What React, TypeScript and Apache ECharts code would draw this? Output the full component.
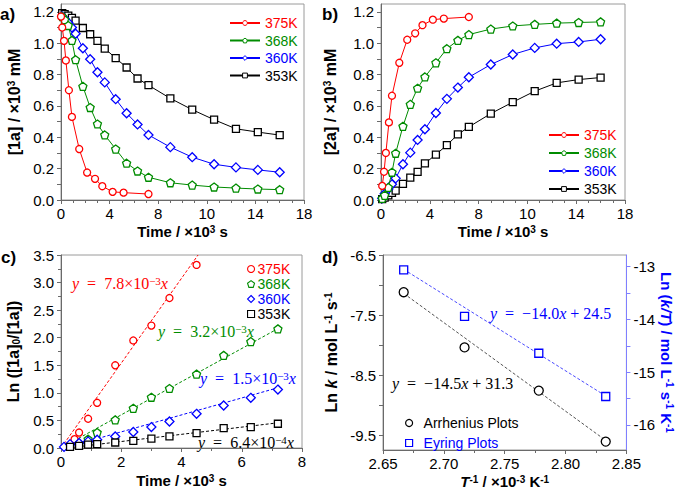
import React, { useEffect, useRef } from 'react';
import * as echarts from 'echarts';

const FONT = '"Liberation Sans", Arial, Helvetica, sans-serif';
const SERIF = '"Liberation Serif", "DejaVu Serif", serif';
const RED = '#ff0000';
const GREEN = '#008c00';
const BLUE = '#0000ff';
const BLACK = '#000000';
const AXIS = '#6a6a6a';
const BORDER = '#9a9a9a';

const tempNames = ['375K', '368K', '360K', '353K'];
const tempColors = [RED, GREEN, BLUE, BLACK];

// shared time axis labels as printed in panels a) and b)
const timeTickLabels = ['0', '4', '8', '10', '14', '18'];

// ---------- panel a : [1a] ----------
const aTime375 = [0, 0.1, 0.25, 0.4, 0.65, 0.9, 1.5, 2.15, 2.8, 3.4, 4.25, 5.15, 7.2];
const a375 = [1.17, 1.1, 1.015, 0.89, 0.7, 0.53, 0.325, 0.175, 0.135, 0.088, 0.052, 0.047, 0.038];
const sampleTime = [0.1, 0.3, 0.6, 0.9, 1.2, 1.8, 2.4, 3.0, 3.6, 4.5, 5.4, 6.3, 7.2, 9.0, 10.8, 12.6, 14.4, 16.2, 18.0];
const a368 = [1.17, 1.15, 1.113, 1.018, 0.895, 0.725, 0.59, 0.485, 0.415, 0.325, 0.235, 0.185, 0.145, 0.11, 0.095, 0.083, 0.076, 0.07, 0.066];
const a360 = [1.17, 1.155, 1.13, 1.1, 1.06, 0.968, 0.898, 0.815, 0.75, 0.643, 0.553, 0.482, 0.415, 0.337, 0.273, 0.228, 0.208, 0.192, 0.177];
const a353 = [1.192, 1.186, 1.176, 1.161, 1.144, 1.097, 1.057, 1.015, 0.966, 0.905, 0.845, 0.775, 0.732, 0.648, 0.576, 0.512, 0.454, 0.433, 0.414];

// ---------- panel b : [2a] ----------
const bTime375 = [0.1, 0.25, 0.4, 0.65, 0.9, 1.5, 2.15, 2.8, 3.4, 4.25, 5.15, 7.2];
const b375 = [0.09, 0.18, 0.3, 0.495, 0.665, 0.875, 1.022, 1.063, 1.115, 1.15, 1.157, 1.167];
const b368 = [0.01, 0.03, 0.08, 0.177, 0.298, 0.47, 0.61, 0.713, 0.785, 0.875, 0.965, 1.018, 1.055, 1.09, 1.11, 1.12, 1.128, 1.132, 1.136];
const b360 = [0.01, 0.04, 0.07, 0.1, 0.138, 0.228, 0.302, 0.383, 0.451, 0.555, 0.645, 0.717, 0.783, 0.864, 0.928, 0.97, 0.997, 1.008, 1.025];
const b353 = [0.005, 0.015, 0.03, 0.045, 0.06, 0.103, 0.143, 0.18, 0.233, 0.29, 0.35, 0.418, 0.466, 0.551, 0.624, 0.694, 0.747, 0.768, 0.781];

// ---------- panel c : Ln([1a]0/[1a]) ----------
const cTime375 = [0.45, 0.6, 0.9, 1.2, 1.8, 2.4, 3.0, 3.6, 4.5];
const c375 = [0.16, 0.28, 0.53, 0.82, 1.5, 1.95, 2.22, 2.72, 3.32];
const cTime368 = [0.6, 0.9, 1.2, 1.8, 2.4, 3.0, 3.6, 4.5, 5.4, 6.3, 7.2];
const c368 = [0.08, 0.16, 0.28, 0.51, 0.72, 0.92, 1.08, 1.34, 1.68, 1.93, 2.16];
const cTime360 = [0.1, 0.3, 0.6, 0.9, 1.2, 1.8, 2.4, 3.0, 3.6, 4.5, 5.4, 6.3, 7.2];
const c360 = [0.02, 0.07, 0.09, 0.12, 0.15, 0.21, 0.29, 0.38, 0.48, 0.62, 0.77, 0.91, 1.06];
const cTime353 = [0.3, 0.6, 0.9, 1.2, 1.8, 2.4, 3.0, 3.6, 4.5, 5.4, 6.3, 7.2];
const c353 = [0.02, 0.04, 0.06, 0.07, 0.1, 0.13, 0.17, 0.21, 0.27, 0.36, 0.38, 0.44];
// dashed fit lines (end points)
const cFitX = [[0, 4.55], [0, 7.25], [0.1, 7.25], [0.2, 7.25]];
const cFitY = [[0, 3.5], [0, 2.18], [0, 1.1], [0, 0.46]];
const cEquations = ['7.8×10{s|−3}', '3.2×10{s|−3}', '1.5×10{s|−3}', '6.4×10{s|−4}'];

// ---------- panel d : Arrhenius / Eyring ----------
const invT = [2.667, 2.717, 2.778, 2.833];
const lnK = [-7.12, -8.04, -8.76, -9.61];
const lnKT = [-13.06, -13.94, -14.64, -15.46];
const arrFitX = [2.667, 2.833];
const arrFitY = [-7.14, -9.59];
const eyrFitX = [2.667, 2.833];
const eyrFitY = [-13.05, -15.45];

const pairs = (xs: number[], ys: number[]) => xs.map((x, i) => [x, ys[i]]);
const steps = (a: number, b: number, s: number) => {
  const out: number[] = [];
  for (let v = a; v <= b + 1e-9; v += s) out.push(Math.round(v * 1000) / 1000);
  return out;
};

const PENTAGON = 'path://M0,-10L9.51,-3.09L5.88,8.09L-5.88,8.09L-9.51,-3.09Z';
const symbols = ['circle', PENTAGON, 'diamond', 'rect'];
const symbolSizes = [7, 8, 9, 7];

const nameRich = (size: number, color: string) => ({
  b: { fontFamily: FONT, fontSize: size, fontWeight: 'bold', color },
  bi: { fontFamily: FONT, fontSize: size, fontWeight: 'bold', fontStyle: 'italic', color },
  sup: { fontFamily: FONT, fontSize: 10, fontWeight: 'bold', color, verticalAlign: 'top', lineHeight: 7 },
  sub: { fontFamily: FONT, fontSize: 10, fontWeight: 'bold', color, verticalAlign: 'bottom', lineHeight: 7 },
});
const nameStyle = (size: number, color = '#000') => ({
  fontFamily: FONT,
  fontSize: size,
  fontWeight: 'bold',
  color,
  rich: nameRich(size, color),
});

const labelStyle = { color: '#000', fontSize: 15, fontFamily: FONT };
const lineAx = (color = AXIS) => ({ show: true, onZero: false, lineStyle: { color, width: 1 } });
const tickAx = (color = AXIS, extra: any = {}) => ({ show: true, length: 4, lineStyle: { color }, ...extra });
const minorAx = (n: number, color = AXIS) => ({ show: true, splitNumber: n, length: 3, lineStyle: { color } });

function timeXAxis(gridIndex: number) {
  return {
    type: 'value', gridIndex, min: 0, max: 20, interval: 4,
    axisLine: lineAx(), axisTick: tickAx(), minorTick: minorAx(4),
    splitLine: { show: false }, minorSplitLine: { show: false },
    axisLabel: { ...labelStyle, margin: 6, formatter: (v: number) => timeTickLabels[Math.round(v / 4)] ?? '' },
    name: 'Time / ×10{sup|3} s', nameLocation: 'middle', nameGap: 24, nameTextStyle: nameStyle(15),
  };
}

function concYAxis(gridIndex: number, name: string, gap: number) {
  return {
    type: 'value', gridIndex, min: 0, max: 1.25,
    axisLine: lineAx(), axisTick: tickAx(AXIS, { customValues: steps(0, 1.2, 0.1) }),
    splitLine: { show: false },
    axisLabel: { ...labelStyle, margin: 7, customValues: steps(0, 1.2, 0.2), formatter: (v: number) => v.toFixed(1) },
    name, nameLocation: 'middle', nameGap: gap, nameTextStyle: nameStyle(16),
  };
}

function lineSeries(name: string, gi: number, xs: number[], ys: number[], k: number) {
  return {
    type: 'line', name, xAxisIndex: gi, yAxisIndex: gi, data: pairs(xs, ys),
    symbol: symbols[k], symbolSize: symbolSizes[k], showAllSymbol: true, clip: false,
    lineStyle: { color: tempColors[k], width: 1 },
    itemStyle: { color: '#fff', borderColor: tempColors[k], borderWidth: 1.3 },
    emphasis: { disabled: true }, z: 3 + (3 - k),
  };
}

function scatterSeries(name: string, xi: number, yi: number, xs: number[], ys: number[], symbol: string, size: number, color: string) {
  return {
    type: 'scatter', name, xAxisIndex: xi, yAxisIndex: yi, data: pairs(xs, ys),
    symbol, symbolSize: size, clip: false,
    itemStyle: { color: '#fff', borderColor: color, borderWidth: 1.3, opacity: 1 },
    emphasis: { disabled: true }, z: 4,
  };
}

function fitSeries(name: string, xi: number, yi: number, xs: number[], ys: number[], color: string) {
  return {
    type: 'line', name, xAxisIndex: xi, yAxisIndex: yi, data: pairs(xs, ys),
    symbol: 'none', clip: false, silent: true,
    lineStyle: { color, width: 1, type: [3, 2] }, z: 2,
  };
}

const eqRich = (color: string, size: number) => ({
  i: { fontFamily: SERIF, fontSize: size, fontStyle: 'italic', fill: color },
  n: { fontFamily: SERIF, fontSize: size, fill: color },
  s: { fontFamily: SERIF, fontSize: Math.round(size * 0.68), fill: color, verticalAlign: 'top', lineHeight: 7 },
});
const eqText = (x: number, y: number, body: string, color: string) => ({
  type: 'text', x, y, silent: true,
  style: {
    text: '{i|y}{n|\u2002=\u2002}' + body.replace(/^([^{]*)/, '{n|$1}') + '{i|x}',
    rich: eqRich(color, 16), fill: color, fontFamily: SERIF, fontSize: 16,
    verticalAlign: 'middle', align: 'left',
  },
});
const eqTextD = (x: number, y: number, text: string, color: string) => ({
  type: 'text', x, y, silent: true,
  style: { text, rich: eqRich(color, 16), fill: color, fontFamily: SERIF, fontSize: 16, verticalAlign: 'middle', align: 'left' },
});
const panelLabel = (text: string, x: number, y: number) => ({
  type: 'text', x, y, silent: true,
  style: { text, fill: '#000', fontFamily: FONT, fontSize: 17, fontWeight: 'bold', verticalAlign: 'middle', align: 'left' },
});

export default function App() {
  const ref = useRef<HTMLDivElement>(null);
  useEffect(() => {
    if (!ref.current) return;
    const chart = echarts.init(ref.current, null, { renderer: 'svg' });
    const gridBase = { show: true, borderColor: BORDER, borderWidth: 1, backgroundColor: 'transparent', containLabel: false };

    const series: any[] = [];
    // panel a
    series.push(lineSeries(tempNames[0], 0, aTime375, a375, 0));
    series.push(lineSeries(tempNames[1], 0, sampleTime, a368, 1));
    series.push(lineSeries(tempNames[2], 0, sampleTime, a360, 2));
    series.push(lineSeries(tempNames[3], 0, sampleTime, a353, 3));
    // panel b
    series.push(lineSeries(tempNames[0], 1, bTime375, b375, 0));
    series.push(lineSeries(tempNames[1], 1, sampleTime, b368, 1));
    series.push(lineSeries(tempNames[2], 1, sampleTime, b360, 2));
    series.push(lineSeries(tempNames[3], 1, sampleTime, b353, 3));
    // panel c
    const cTimes = [cTime375, cTime368, cTime360, cTime353];
    const cVals = [c375, c368, c360, c353];
    for (let k = 0; k < 4; k++) {
      series.push(fitSeries('fit' + k, 2, 2, cFitX[k], cFitY[k], tempColors[k]));
    }
    for (let k = 0; k < 4; k++) {
      series.push(scatterSeries('c:' + tempNames[k], 2, 2, cTimes[k], cVals[k], symbols[k], symbolSizes[k], tempColors[k]));
    }
    // panel d
    series.push(fitSeries('arrFit', 3, 3, arrFitX, arrFitY, '#555'));
    series.push(fitSeries('eyrFit', 3, 4, eyrFitX, eyrFitY, '#4a4aff'));
    series.push(scatterSeries('Arrhenius Plots', 3, 3, invT, lnK, 'circle', 9, BLACK));
    series.push(scatterSeries('Eyring Plots', 3, 4, invT, lnKT, 'rect', 8, BLUE));

    const option: any = {
      animation: false,
      textStyle: { fontFamily: FONT },
      grid: [
        { ...gridBase, left: 61, top: 4, width: 243, height: 196 },
        { ...gridBase, left: 381, top: 4, width: 244, height: 196 },
        { ...gridBase, left: 61, top: 255, width: 241, height: 193 },
        { ...gridBase, left: 383, top: 255, width: 244, height: 195 },
      ],
      xAxis: [
        timeXAxis(0),
        timeXAxis(1),
        {
          type: 'value', gridIndex: 2, min: 0, max: 8, interval: 2,
          axisLine: lineAx(), axisTick: tickAx(), minorTick: minorAx(2),
          splitLine: { show: false }, minorSplitLine: { show: false },
          axisLabel: { ...labelStyle, margin: 6 },
          name: 'Time / ×10{sup|3} s', nameLocation: 'middle', nameGap: 25, nameTextStyle: nameStyle(15),
        },
        {
          type: 'value', gridIndex: 3, min: 2.65, max: 2.85, interval: 0.05,
          axisLine: lineAx(), axisTick: tickAx(), minorTick: minorAx(2),
          splitLine: { show: false }, minorSplitLine: { show: false },
          axisLabel: { ...labelStyle, margin: 6, formatter: (v: number) => v.toFixed(2) },
          name: '{bi|T}{sup|-1} / ×10{sup|-3} K{sup|-1}', nameLocation: 'middle', nameGap: 24, nameTextStyle: nameStyle(15),
        },
      ],
      yAxis: [
        concYAxis(0, '[1a] / ×10{sup|3} mM', 39),
        concYAxis(1, '[2a] / ×10{sup|3} mM', 43),
        {
          type: 'value', gridIndex: 2, min: 0, max: 3.5, interval: 0.5,
          axisLine: lineAx(), axisTick: tickAx(), minorTick: minorAx(2),
          splitLine: { show: false }, minorSplitLine: { show: false },
          axisLabel: { ...labelStyle, margin: 7, formatter: (v: number) => v.toFixed(1) },
          name: 'Ln ([1a]{sub|0}/[1a])', nameLocation: 'middle', nameGap: 40, nameTextStyle: nameStyle(16),
        },
        {
          type: 'value', gridIndex: 3, min: -9.75, max: -6.5,
          axisLine: lineAx(), axisTick: tickAx(AXIS, { customValues: steps(-9.5, -6.5, 0.5) }),
          splitLine: { show: false },
          axisLabel: { ...labelStyle, margin: 7, customValues: [-9.5, -8.5, -7.5, -6.5], formatter: (v: number) => v.toFixed(1) },
          name: 'Ln {bi|k} / mol L{sup|-1} s{sup|-1}', nameLocation: 'middle', nameGap: 44, nameTextStyle: nameStyle(16),
        },
        {
          type: 'value', gridIndex: 3, position: 'right', min: -16.474, max: -12.778,
          axisLine: lineAx('#7f7fff'), axisTick: tickAx('#7f7fff', { customValues: steps(-16, -13, 0.5) }),
          splitLine: { show: false },
          axisLabel: { ...labelStyle, margin: 7, customValues: [-16, -15, -14, -13], formatter: (v: number) => String(Math.round(v)) },
          name: 'Ln ({bi|k/T}) / mol L{sup|-1} s{sup|-1} K{sup|-1}', nameLocation: 'middle', nameRotate: -90, nameGap: 32,
          nameTextStyle: nameStyle(15, BLUE),
        },
      ],
      legend: [
        {
          left: 224, top: 11, orient: 'vertical', itemWidth: 30, itemHeight: 6, itemGap: 3.5, selectedMode: false,
          itemStyle: { borderWidth: 1 },
          textStyle: { fontFamily: FONT, fontSize: 14 },
          data: tempNames.map((n, i) => ({ name: n, textStyle: { color: tempColors[i] } })),
        },
        {
          left: 543, top: 123, orient: 'vertical', itemWidth: 30, itemHeight: 6, itemGap: 4, selectedMode: false,
          itemStyle: { borderWidth: 1 },
          textStyle: { fontFamily: FONT, fontSize: 14 },
          data: tempNames.map((n, i) => ({ name: n, textStyle: { color: tempColors[i] } })),
        },
        {
          left: 242, top: 257, orient: 'vertical', itemWidth: 7, itemHeight: 7, itemGap: 1, selectedMode: false,
          itemStyle: { borderWidth: 1.1 },
          textStyle: { fontFamily: FONT, fontSize: 14, padding: [0, 0, 0, -2] },
          formatter: (n: string) => n.replace('c:', ''),
          data: tempNames.map((n, i) => ({ name: 'c:' + n, icon: symbols[i], textStyle: { color: tempColors[i] } })),
        },
        {
          left: 400, top: 411, orient: 'vertical', itemWidth: 7, itemHeight: 7, itemGap: 6, selectedMode: false,
          itemStyle: { borderWidth: 1.2 },
          textStyle: { fontFamily: FONT, fontSize: 14, padding: [0, 0, 0, 6] },
          data: [
            { name: 'Arrhenius Plots', icon: 'circle', textStyle: { color: BLACK } },
            { name: 'Eyring Plots', icon: 'rect', textStyle: { color: BLUE } },
          ],
        },
      ],
      graphic: [
        panelLabel('a)', 0, 14),
        panelLabel('b)', 322, 14),
        panelLabel('c)', 1, 257),
        panelLabel('d)', 322, 257),
        eqText(72, 283, cEquations[0], RED),
        eqText(158, 331, cEquations[1], GREEN),
        eqText(200, 378, cEquations[2], BLUE),
        eqText(198, 442, cEquations[3], BLACK),
        eqTextD(490, 313, '{i|y}{n|\u2002=\u2002−14.0}{i|x}{n| + 24.5}', BLUE),
        eqTextD(392, 383, '{i|y}{n|\u2002=\u2002−14.5}{i|x}{n| + 31.3}', BLACK),
      ],
      series,
    };
    chart.setOption(option);
    return () => chart.dispose();
  }, []);
  return <div ref={ref} style={{ position: 'absolute', left: 0, top: 0, width: 675, height: 491 }} />;
}
